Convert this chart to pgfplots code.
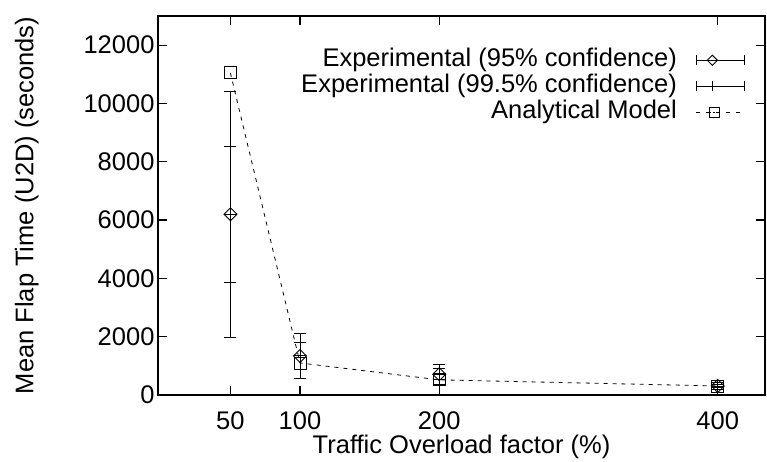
\documentclass[border=0pt]{standalone}
\usepackage{fontspec}
\setmainfont{Liberation Sans}
\usepackage{pgfplots}
\usepackage{pgfplotstable}
\pgfplotsset{compat=1.18}
\pgfplotstableread{
x y e95 e995
50 6200 2330 4220
100 1340 460 780
200 712 182 343
400 310 60 110
}\exper
\begin{document}
\begin{tikzpicture}
\path[use as bounding box] (-158pt,-66pt) rectangle (609pt,395pt);
\begin{axis}[
  scale only axis, width=607pt, height=379pt,
  xmin=-2, xmax=434, ymin=0, ymax=13000,
  xtick={50,100,200,400},
  ytick={0,2000,4000,6000,8000,10000,12000},
  scaled y ticks=false,
  /pgf/number format/assume math mode=true,
  /pgf/number format/1000 sep={},
  font=\fontsize{25.5}{28}\selectfont,
  axis line style={line width=1.8pt},
  major tick length=9pt,
  tick style={line width=1.2pt, black},
  xticklabel style={anchor=base, yshift=-34pt},
  xlabel={Traffic Overload factor (\%)},
  ylabel={Mean Flap Time (U2D) (seconds)},
  every axis x label/.style={at={(axis description cs:0.5,0)}, anchor=base, yshift=-58pt},
  ylabel shift=38pt,
  legend cell align=right,
  legend plot pos=right,
  legend style={draw=none, fill=none, at={(0.967,0.918)}, anchor=north east,
    inner sep=0pt, column sep=18pt,
    font=\fontsize{25.5}{28}\selectfont, row sep=0pt,
    nodes={inner sep=1pt, text height=18pt, text depth=6pt}},
]
\addplot[black, line width=0.9pt, only marks, mark=square, mark size=4.6pt,
  mark options={rotate=45, solid},
  error bars/.cd, y dir=both, y explicit,
  error bar style={line width=0.9pt},
  error mark options={rotate=90, line width=0.9pt, mark size=6pt, black},
  /pgfplots/legend image code/.code={
    \draw[black, line width=0.9pt] (0pt,0pt) -- (48pt,0pt) (0pt,-5pt) -- (0pt,5pt) (48pt,-5pt) -- (48pt,5pt);
    \draw[black, line width=0.9pt, only marks, mark=square, mark size=3.6pt, mark options={rotate=45, fill=white}] plot coordinates {(16pt,0pt)};
  }]
  table[x=x, y=y, y error=e95] {\exper};
\addlegendentry{Experimental (95\% confidence)}
\addplot[black, line width=0.9pt, only marks, mark=+, mark size=6pt,
  error bars/.cd, y dir=both, y explicit,
  error bar style={line width=0.9pt},
  error mark options={rotate=90, line width=0.9pt, mark size=6pt, black},
  /pgfplots/legend image code/.code={
    \draw[black, line width=0.9pt] (0pt,0pt) -- (48pt,0pt) (0pt,-5pt) -- (0pt,5pt) (48pt,-5pt) -- (48pt,5pt);
    \draw[black, line width=0.9pt] (16pt,-5pt) -- (16pt,5pt);
  }]
  table[x=x, y=y, y error=e995] {\exper};
\addlegendentry{Experimental (99.5\% confidence)}
\addplot[black, line width=0.8pt, dash pattern=on 4pt off 5pt, mark=square, mark size=6pt,
  mark options={solid},
  legend image code/.code={
    \draw[black, line width=0.8pt, dash pattern=on 4pt off 6pt] (0pt,0pt) -- (48pt,0pt);
    \draw[black, line width=0.9pt, only marks, mark=square, mark size=5pt, mark options={solid, fill=white}] plot coordinates {(18pt,0pt)};
    \draw[black, line width=0.6pt, dash pattern=on 2pt off 2pt] (13pt,0pt) -- (23pt,0pt);
  }]
  coordinates {(50,11050) (100,1100) (200,520) (400,310)};
\addlegendentry{Analytical Model}
\end{axis}
\end{tikzpicture}
\end{document}
